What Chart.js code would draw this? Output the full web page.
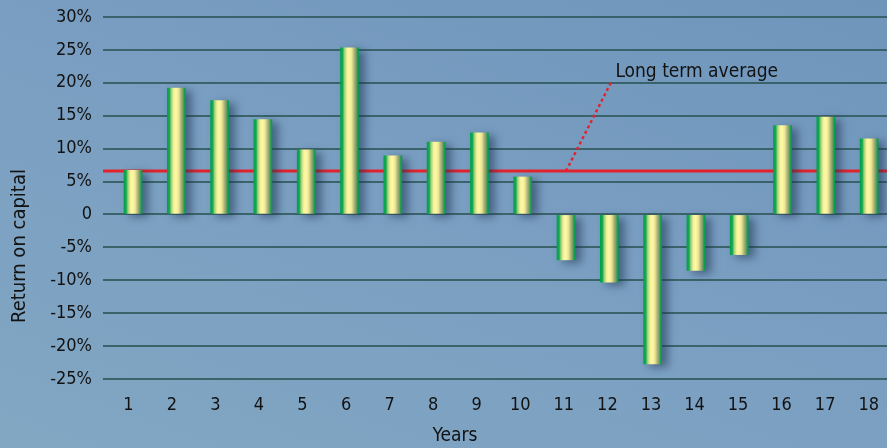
<!DOCTYPE html>
<html>
<head>
<meta charset="utf-8">
<script src="https://cdn.jsdelivr.net/npm/chart.js@4.4.1/dist/chart.umd.min.js"></script>
<style>
  html, body { margin: 0; padding: 0; }
  body {
    width: 887px; height: 448px; overflow: hidden;
    background: linear-gradient(200deg, #6f95bb 0%, #799ec1 45%, #82a7c3 100%);
  }
  #wrap { position: relative; width: 887px; height: 448px; }
</style>
</head>
<body>
<div id="wrap"><canvas id="chart" width="887" height="448"></canvas></div>
<script>
// Annual return on capital, years 1-18 (%)
const years = ['1','2','3','4','5','6','7','8','9','10','11','12','13','14','15','16','17','18'];
const returns = [6.7, 19.2, 17.3, 14.4, 9.8, 25.3, 8.9, 11.0, 12.4, 5.7, -6.9, -10.3, -22.7, -8.5, -6.1, 13.5, 14.8, 11.5];
const longTermAverage = 6.6;
const yTickValues = [-25, -20, -15, -10, -5, 0, 5, 10, 15, 20, 25, 30];
const yTickLabels = ['-25%', '-20%', '-15%', '-10%', '-5%', '0', '5%', '10%', '15%', '20%', '25%', '30%'];
const averageLabel = 'Long term average';
const xTitle = 'Years';
const yTitle = 'Return on capital';

const FONT = "'DejaVu Sans Condensed', 'Liberation Sans Narrow', 'Liberation Sans', sans-serif";
const TEXT = '#121212';

// bar points on the numeric x scale (year number -> value)
const barPoints = returns.map((v, i) => ({ x: i + 1, y: v }));

function barGradient(c) {
  const chart = c.chart;
  const xs = chart.scales && chart.scales.xb;
  if (c.type !== 'data' || !xs) return '#fff59a';
  const cx = xs.getPixelForValue(c.raw.x);
  if (!isFinite(cx)) return '#fff59a';
  const g = chart.ctx.createLinearGradient(cx - 9, 0, cx + 9, 0);
  g.addColorStop(0.00, '#00a04c');
  g.addColorStop(0.12, '#17a850');
  g.addColorStop(0.22, '#9fd178');
  g.addColorStop(0.36, '#f6f29a');
  g.addColorStop(0.48, '#fff8a4');
  g.addColorStop(0.62, '#eee796');
  g.addColorStop(0.78, '#a7ae78');
  g.addColorStop(0.88, '#6f9c64');
  g.addColorStop(0.94, '#18a04e');
  g.addColorStop(1.00, '#00a04c');
  return g;
}

// long-term average line (behind bars) and its callout
const averagePlugin = {
  id: 'averageLine',
  beforeDatasetsDraw(chart) {
    const { ctx, chartArea } = chart;
    const y = chart.scales.y.getPixelForValue(longTermAverage);
    ctx.save();
    ctx.strokeStyle = '#e2232d';
    ctx.lineWidth = 3;
    ctx.beginPath();
    ctx.moveTo(chartArea.left, y);
    ctx.lineTo(chartArea.right, y);
    ctx.stroke();
    ctx.restore();
  },
  afterDatasetsDraw(chart) {
    const { ctx } = chart;
    const xs = chart.scales.xb, ys = chart.scales.y;
    const x0 = xs.getPixelForValue(11), y0 = ys.getPixelForValue(longTermAverage);
    const x1 = xs.getPixelForValue(12.05), y1 = ys.getPixelForValue(20.2);
    ctx.save();
    ctx.strokeStyle = '#e2232d';
    ctx.lineWidth = 2.5;
    ctx.setLineDash([3, 3]);
    ctx.beginPath();
    ctx.moveTo(x0, y0);
    ctx.lineTo(x1, y1);
    ctx.stroke();
    ctx.setLineDash([]);
    ctx.fillStyle = TEXT;
    ctx.font = '19px ' + FONT;
    ctx.textAlign = 'left';
    ctx.textBaseline = 'middle';
    ctx.fillText(averageLabel, xs.getPixelForValue(12.14), ys.getPixelForValue(21.7));
    ctx.restore();
  }
};

// soft shadow on the right of each bar
const shadowPlugin = {
  id: 'barShadow',
  beforeDatasetDraw(chart) {
    const ctx = chart.ctx;
    ctx.save();
    ctx.shadowColor = 'rgba(30, 50, 80, 0.55)';
    ctx.shadowBlur = 9;
    ctx.shadowOffsetX = 6;
    ctx.shadowOffsetY = 3;
  },
  afterDatasetDraw(chart) {
    chart.ctx.restore();
  }
};

// axis titles
const titlesPlugin = {
  id: 'axisTitles',
  afterDraw(chart) {
    const ctx = chart.ctx;
    ctx.save();
    ctx.fillStyle = TEXT;
    ctx.font = '19px ' + FONT;
    ctx.textAlign = 'center';
    ctx.textBaseline = 'middle';
    ctx.fillText(xTitle, 455, 436);
    ctx.translate(20, 246);
    ctx.rotate(-Math.PI / 2);
    ctx.font = '20px ' + FONT;
    ctx.fillText(yTitle, 0, 0);
    ctx.restore();
  }
};

new Chart(document.getElementById('chart'), {
  type: 'bar',
  data: {
    datasets: [{
      data: barPoints,
      xAxisID: 'xb',
      yAxisID: 'y',
      barThickness: 18,
      backgroundColor: barGradient,
      borderWidth: 0
    }]
  },
  options: {
    responsive: false,
    animation: false,
    events: [],
    layout: { padding: { top: 17, right: 0, left: 0, bottom: 0 } },
    plugins: { legend: { display: false }, tooltip: { enabled: false } },
    scales: {
      xb: {
        type: 'linear',
        display: false,
        offset: false,
        bounds: 'ticks',
        min: 0.307,
        max: 18.413
      },
      x: {
        type: 'category',
        labels: years,
        position: 'bottom',
        offset: true,
        grid: { display: false, drawTicks: false },
        border: { display: false },
        ticks: { color: TEXT, font: { family: FONT, size: 18 }, padding: 16, labelOffset: 3.5, maxRotation: 0, autoSkip: false },
        afterFit(s) { s.height = 69; s.paddingLeft = 0; s.paddingRight = 0; }
      },
      y: {
        type: 'linear',
        min: -25,
        max: 30,
        afterBuildTicks(s) { s.ticks = yTickValues.map(v => ({ value: v })); },
        ticks: {
          color: TEXT,
          font: { family: FONT, size: 18 },
          padding: 11,
          callback: (v) => yTickLabels[yTickValues.indexOf(v)]
        },
        grid: { color: 'rgba(52, 92, 96, 0.9)', lineWidth: 2, drawTicks: false },
        border: { display: false },
        afterFit(s) { s.width = 103; s.paddingTop = 0; s.paddingBottom = 0; }
      }
    }
  },
  plugins: [averagePlugin, shadowPlugin, titlesPlugin]
});
</script>
</body>
</html>
